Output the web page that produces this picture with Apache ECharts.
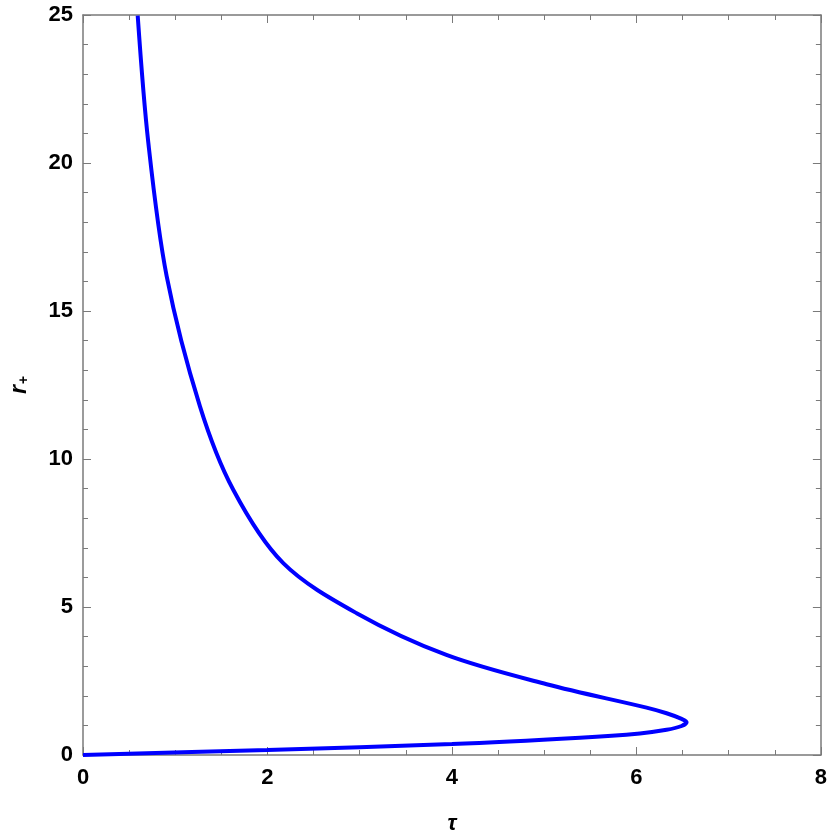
<!DOCTYPE html>
<html>
<head>
<meta charset="utf-8">
<script src="https://cdn.jsdelivr.net/npm/echarts@6/dist/echarts.min.js"></script>
<style>
html,body{margin:0;padding:0;background:#fff;}
#c{width:830px;height:840px;}
</style>
</head>
<body>
<div id="c"></div>
<script>
// Curve, ordered along the curve (upper branch -> tip -> lower branch)
const tauValues = [0.593, 0.708, 0.907, 1.268, 1.629, 2.171, 2.967, 3.94, 5.027, 6.11, 6.327, 6.49, 6.544,
                   6.49, 6.327, 6.038, 5.388, 4.0, 2.0, 0.0];
const rValues   = [24.98, 20.69, 16.18, 11.78, 8.96, 6.48, 4.79, 3.38, 2.39, 1.60, 1.41, 1.22, 1.11,
                   0.98, 0.85, 0.73, 0.585, 0.37, 0.17, 0.0];
const xTicks = [0, 2, 4, 6, 8];
const yTicks = [0, 5, 10, 15, 20, 25];

const curve = tauValues.map((t, i) => [t, rValues[i]]);

const frameColor = '#7a7a7a';
const fam = 'Liberation Sans, Arial, sans-serif';
const labelFont = { color: '#000', fontSize: 22, fontWeight: 'bold', fontFamily: fam };

function xAx(pos, showLabel) {
  return {
    type: 'value', position: pos, min: xTicks[0], max: xTicks[xTicks.length - 1], interval: 2,
    axisLine: { show: true, onZero: false, lineStyle: { color: frameColor, width: 1.5 } },
    axisTick: { show: true, inside: true, length: 8, lineStyle: { color: frameColor, width: 1 } },
    minorTick: { show: true, splitNumber: 4, length: 5, lineStyle: { color: frameColor, width: 1 } },
    splitLine: { show: false },
    axisLabel: Object.assign({ show: showLabel, margin: 12 }, labelFont),
    name: showLabel ? 'τ' : '',
    nameLocation: 'middle', nameGap: 58,
    nameTextStyle: { color: '#000', fontSize: 22, fontWeight: 'bold', fontStyle: 'italic', fontFamily: fam }
  };
}
function yAx(pos, showLabel) {
  return {
    type: 'value', position: pos, min: yTicks[0], max: yTicks[yTicks.length - 1], interval: 5,
    axisLine: { show: true, onZero: false, lineStyle: { color: frameColor, width: 1.5 } },
    axisTick: { show: true, inside: true, length: 8, lineStyle: { color: frameColor, width: 1 } },
    minorTick: { show: true, splitNumber: 5, length: 5, lineStyle: { color: frameColor, width: 1 } },
    splitLine: { show: false },
    axisLabel: Object.assign({ show: showLabel, margin: 10 }, labelFont),
    name: showLabel ? '{r|r}{s|+}' : '',
    nameLocation: 'middle', nameGap: 52, nameRotate: 90,
    nameTextStyle: {
      rich: {
        r: { color: '#000', fontSize: 23, fontWeight: 'bold', fontStyle: 'italic', fontFamily: fam, lineHeight: 26, verticalAlign: 'bottom' },
        s: { color: '#000', fontSize: 14, fontWeight: 'bold', fontFamily: fam, lineHeight: 17, verticalAlign: 'bottom', padding: [0, 0, 0, 1] }
      }
    }
  };
}

const chart = echarts.init(document.getElementById('c'), null, { renderer: 'canvas' });
chart.setOption({
  animation: false,
  backgroundColor: '#fff',
  grid: { left: 83, right: 8, top: 15, bottom: 85, containLabel: false },
  xAxis: [xAx('bottom', true), xAx('top', false)],
  yAxis: [yAx('left', true), yAx('right', false)],
  series: [{
    type: 'line', xAxisIndex: 0, yAxisIndex: 0,
    data: curve, showSymbol: false, smooth: 0.33,
    lineStyle: { color: '#0000ff', width: 4 },
    clip: true
  }]
});
</script>
</body>
</html>
